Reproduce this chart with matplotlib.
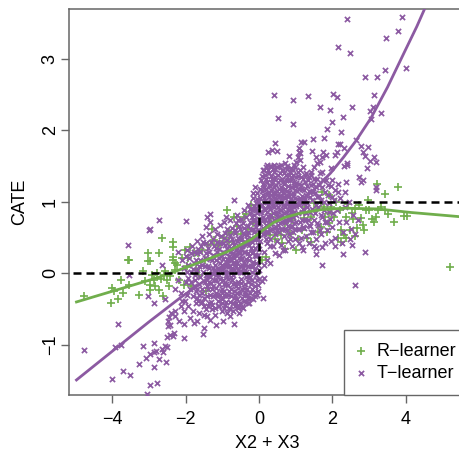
import matplotlib
matplotlib.use('Agg')
import matplotlib.pyplot as plt
import numpy as np

plt.rcParams['font.family'] = ['Liberation Sans', 'DejaVu Sans']

# values (X2 + X3, CATE)
t_upper = [
    (2.39,3.55),(3.89,3.58),(3.78,3.38),(3.45,3.29),(2.15,3.16),(2.48,3.08),(4.01,2.87),(3.44,2.84),
    (2.90,2.74),(3.21,2.74),(0.42,2.49),(0.94,2.42),(1.34,2.48),(2.02,2.51),(2.13,2.47),(3.14,2.49),
    (1.67,2.33),(1.93,2.28),(2.52,2.32),(3.11,2.32),(3.02,2.27),(3.32,2.24),(2.29,2.18),(3.04,2.16),
    (0.51,2.17),(0.92,2.09),(1.98,2.11),(1.84,2.01),(2.23,1.98),(1.77,1.89),(1.48,1.87),(2.64,1.86),
    (0.44,1.82),(1.15,1.83),(1.23,1.84),(2.14,1.81),(2.20,1.80),(2.77,1.78),(2.97,1.77),(2.31,1.75),
    (2.82,1.70),(2.89,1.64),(3.14,1.62),(3.03,1.57),(3.19,1.56),(2.94,1.47),(2.73,1.35),(2.82,1.30),
    (2.77,1.27),(3.20,1.20),(2.39,1.51),(2.32,1.50),(2.41,1.54),(2.12,1.69),(2.06,1.65),(1.82,1.65),
    (1.75,1.69),(1.71,1.63),(1.59,1.54),(1.50,1.49),(1.45,1.71),(1.13,1.68),(1.09,1.75),(1.06,1.63),
    (0.82,1.64),(0.24,1.69),(0.36,1.72),(0.50,1.71),(2.36,1.28),(2.16,1.25),(2.14,1.14),(2.34,1.13),
    (2.00,1.30),(1.95,1.47),(1.72,1.42),(1.27,1.40),(1.41,1.38),(0.95,1.51),(0.72,1.54),(0.22,1.51),
    (0.41,1.51),(0.59,1.51),(1.10,1.70),(1.12,1.58),(1.02,1.55),(0.88,1.47),(1.55,1.62),(1.65,1.56),
]
t_lower = [
    (-4.77,-1.07),(-2.72,0.75),(-1.98,0.73),(-3.00,0.60),(-2.98,0.62),(-3.57,0.39),(-3.53,-0.03),(-3.83,-0.71),
    (-3.92,-1.03),(-3.77,-1.00),(-3.17,-1.02),(-2.85,-0.97),(-4.00,-1.47),(-3.69,-1.36),(-3.51,-1.42),(-3.27,-1.26),
    (-3.08,-1.19),(-2.97,-1.13),(-2.87,-1.10),(-2.65,-1.06),(-2.55,-1.02),(-2.71,-1.20),(-2.54,-1.24),(-2.87,-1.31),
    (-2.98,-1.56),(-2.79,-1.53),(-3.06,-1.68),(-2.46,-0.61),(-2.49,-0.67),(-2.42,-0.72),(-2.49,-0.74),(-2.28,-0.53),
    (-2.28,-0.60),(-2.42,-0.86),(-2.51,-0.89),(-2.35,-0.87),(-2.05,-0.90),(-2.19,-0.67),(-2.05,-0.71),(-1.87,-0.63),
    (-1.78,-0.70),(-1.69,-0.67),(-1.51,-0.76),(-1.53,-0.85),(-1.42,-0.60),(-1.33,-0.65),(-1.19,-0.58),(-1.16,-0.72),
    (-0.99,-0.67),(-0.69,-0.71),(-0.46,-0.47),(-0.87,-0.56),(-0.78,-0.60),(-3.01,-0.32),(-2.85,-0.42),(-2.55,-0.36),
    (-2.65,0.12),(-1.42,0.79),(-1.33,0.72),(-1.44,0.65),(-1.33,0.83),(-0.69,1.02),(-0.90,0.79),(-0.57,0.75),
    (-2.80,-1.08),(-2.62,-1.10),(-2.50,-1.03),(-2.32,-0.84),(-2.40,-0.56),(-2.12,-0.46),(-2.05,-0.52),
    (-1.92,-0.46),(-1.80,-0.52),(-1.72,-0.42),(-1.62,-0.55),(-1.55,-0.40),(-1.40,-0.45),(-1.28,-0.50),(-1.12,-0.45),
    (-1.02,-0.52),(-0.92,-0.44),(-0.82,-0.48),(-0.70,-0.52),(-0.62,-0.42),(-0.55,-0.55),(-0.30,-0.42),(-0.38,-0.30),
    (-0.10,-0.18),(-1.50,-0.58),(-1.95,-0.30),(-2.10,-0.38),
]
t_core_left = [
    (-2.05,0.08),(-1.98,-0.12),(-1.92,0.12),(-1.88,-0.22),(-1.85,0.02),(-1.80,-0.32),(-1.78,0.15),(-1.75,-0.10),
    (-1.72,-0.25),(-1.70,0.28),(-1.68,0.05),(-1.65,-0.38),(-1.62,-0.15),(-1.60,0.18),(-1.58,0.38),(-1.55,-0.28),
    (-1.52,0.02),(-1.50,-0.45),(-1.48,0.22),(-1.46,-0.12),(-1.44,0.42),(-1.42,-0.32),(-1.40,0.10),(-1.38,-0.22),
    (-1.35,0.30),(-1.33,-0.05),(-1.30,-0.40),(-1.28,0.18),(-1.26,0.48),(-1.24,-0.18),(-1.22,0.05),(-1.20,-0.30),
    (-1.18,0.35),(-1.16,-0.10),(-1.14,0.55),(-1.12,-0.38),(-1.10,0.22),(-1.08,-0.02),(-1.06,0.42),(-1.04,-0.25),
    (-1.02,0.12),(-1.00,-0.42),(-0.98,0.30),(-0.96,-0.15),(-0.94,0.50),(-0.92,0.02),(-0.90,-0.32),(-0.88,0.20),
    (-0.86,0.62),(-0.84,-0.08),(-0.82,0.38),(-0.80,-0.40),(-0.78,0.10),(-0.76,-0.22),(-0.74,0.48),(-0.72,0.28),
    (-0.70,-0.02),(-0.68,-0.35),(-0.66,0.15),(-0.64,0.60),(-0.62,-0.18),(-0.60,0.35),(-0.58,0.05),(-0.56,-0.45),
    (-0.54,0.22),(-0.52,-0.28),(-0.50,0.50),(-0.48,-0.08),(-0.46,0.12),(-0.44,0.70),(-0.42,-0.38),(-0.40,0.30),
    (-0.38,-0.15),(-0.36,0.42),(-0.34,0.02),(-0.32,-0.30),(-0.30,0.58),(-0.28,0.18),(-0.26,-0.42),(-0.24,-0.05),
    (-0.22,0.35),(-0.20,0.78),(-0.18,-0.22),(-0.16,0.10),(-0.14,0.48),(-0.12,-0.32),(-0.10,0.25),(-0.08,0.65),
    (-0.06,-0.10),(-0.04,0.40),(-0.02,0.88),(-0.01,0.05),(-0.03,-0.25),(-0.05,0.55),(-0.09,0.98),(-0.13,0.82),
    (-0.17,0.62),(-0.21,0.50),(-0.25,0.72),(-0.29,0.28),(-0.33,0.48),(-0.37,0.12),(-0.41,0.55),(-0.45,0.38),
    (-0.49,0.20),(-0.53,0.62),(-0.57,-0.12),(-0.61,0.45),(-0.65,-0.30),(-0.69,0.25),(-0.73,0.08),(-0.77,-0.05),
    (-0.81,-0.25),(-0.85,0.18),(-0.89,-0.15),(-0.93,0.40),(-0.97,0.08),(-1.01,-0.22),(-1.05,0.15),(-1.09,-0.15),
    (-1.13,0.30),(-1.17,-0.28),(-1.21,0.12),(-1.25,-0.32),(-1.29,0.00),(-1.33,0.20),(-1.37,-0.12),(-1.41,-0.02),
    (-0.35,-0.05),(-0.39,-0.28),(-0.43,0.08),(-0.47,-0.22),(-0.51,0.02),(-0.55,0.28),(-0.59,-0.28),(-0.63,0.10),
    (-0.67,0.40),(-0.71,-0.15),(-0.75,0.18),(-0.79,0.30),(-0.83,0.02),(-0.87,-0.05),(-0.91,0.12),(-0.95,-0.30),
    (-0.15,0.30),(-0.19,0.02),(-0.23,-0.15),(-0.27,0.40),(-0.31,-0.12),(-0.07,0.15),(-0.11,0.75),(-0.04,0.70),
    (-2.20,0.30),(-2.10,0.18),(-1.95,0.32),(-1.82,0.38),(-1.70,0.45),(-1.55,0.52),(-1.35,0.55),(-1.20,0.62),
    (-1.05,0.68),(-0.95,0.72),(-0.78,0.75),(-0.60,0.82),(-0.40,0.88),(-0.30,0.95),(-0.15,1.05),(-0.05,1.12),
    (-2.30,-0.22),(-2.20,-0.10),(-2.12,-0.28),(-2.02,-0.38),(-0.18,0.88),(-0.10,1.20),(-0.03,1.00),(-0.24,0.90),
]
t_dense_left = [
    (-1.58,-0.42),(-1.54,-0.22),(-1.60,-0.05),(-1.55,0.12),(-1.61,0.30),(-1.52,0.44),(-1.49,-0.34),(-1.45,-0.02),
    (-1.47,0.10),(-1.44,0.28),(-1.43,-0.50),(-1.41,-0.18),(-1.39,0.36),(-1.36,-0.42),(-1.34,-0.30),(-1.36,0.08),
    (-1.32,0.44),(-1.31,-0.14),(-1.27,-0.44),(-1.27,-0.22),(-1.26,0.08),(-1.25,0.26),(-1.23,0.38),(-1.22,-0.10),
    (-1.19,-0.48),(-1.18,-0.20),(-1.17,-0.02),(-1.16,0.18),(-1.15,0.44),(-1.13,-0.32),(-1.12,0.08),(-1.10,-0.46),
    (-1.09,0.34),(-1.07,-0.30),(-1.06,-0.08),(-1.05,0.04),(-1.04,0.26),(-1.03,0.52),(-1.01,-0.36),(-0.99,-0.10),
    (-0.99,0.20),(-0.98,0.42),(-0.96,-0.48),(-0.95,-0.24),(-0.94,0.02),(-0.93,0.28),(-0.92,0.56),(-0.90,-0.40),
    (-0.89,-0.02),(-0.88,0.10),(-0.87,0.34),(-0.86,0.46),(-0.84,-0.30),(-0.83,-0.16),(-0.82,0.10),(-0.81,0.24),
    (-0.80,0.54),(-0.79,-0.50),(-0.77,-0.32),(-0.76,0.04),(-0.75,0.36),(-0.74,0.64),(-0.73,-0.10),(-0.72,0.14),
    (-0.71,-0.42),(-0.70,0.44),(-0.69,-0.24),(-0.68,0.04),(-0.67,0.22),(-0.66,0.56),(-0.65,-0.46),(-0.64,-0.14),
    (-0.63,0.32),(-0.62,0.70),(-0.61,-0.36),(-0.60,0.14),(-0.59,0.02),(-0.58,0.50),(-0.57,-0.48),(-0.56,-0.20),
    (-0.55,0.38),(-0.54,0.66),(-0.53,0.10),(-0.52,-0.42),(-0.51,0.28),(-0.50,-0.14),(-0.49,0.46),(-0.48,0.76),
    (-0.47,-0.34),(-0.46,0.02),(-0.45,0.22),(-0.44,0.56),(-0.43,-0.48),(-0.42,0.14),(-0.41,-0.20),(-0.40,0.64),
    (-0.39,0.44),(-0.38,0.04),(-0.37,0.30),(-0.36,-0.40),(-0.35,0.78),(-0.34,0.20),(-0.33,-0.22),(-0.32,0.54),
    (-0.31,0.10),(-0.30,-0.34),(-0.29,0.66),(-0.28,-0.06),(-0.27,0.24),(-0.26,0.46),(-0.25,-0.28),(-0.24,0.84),
    (-0.23,0.10),(-0.22,0.60),(-0.21,-0.34),(-0.20,0.28),(-0.19,-0.10),(-0.18,0.44),(-0.17,0.74),(-0.16,-0.36),
    (-0.15,0.16),(-0.14,0.94),(-0.13,0.58),(-0.12,0.04),(-0.11,0.36),(-0.10,-0.26),(-0.09,0.70),(-0.08,0.24),
    (-0.07,0.48),(-0.06,-0.30),(-0.05,0.84),(-0.04,0.12),(-0.03,0.60),(-0.02,-0.16),(-0.01,0.34),(-0.01,0.76),
    (-0.02,0.96),(-0.06,1.04),(-0.12,0.90),(-0.02,0.48),(-0.04,0.26),(-0.07,-0.02),(-0.01,-0.08),(-0.16,1.12),
    (-1.90,0.22),(-1.84,0.28),(-1.76,0.30),(-1.72,0.18),(-1.66,0.34),(-1.64,0.10),(-1.74,-0.02),(-1.80,0.06),
    (-1.68,-0.22),(-1.62,-0.30),(-1.70,-0.34),(-1.76,-0.18),(-1.84,-0.12),(-1.92,-0.06),(-2.00,0.24),(-1.96,0.02),
]
t_core_right = [
    (0.02,0.70),(0.03,1.05),(0.04,0.45),(0.05,1.30),(0.06,0.85),(0.07,1.15),(0.08,0.60),(0.09,0.95),
    (0.10,1.45),(0.11,0.75),(0.12,1.25),(0.13,0.30),(0.14,1.05),(0.15,0.55),(0.16,1.38),(0.17,0.88),
    (0.18,1.18),(0.19,0.68),(0.20,1.48),(0.21,0.42),(0.22,1.00),(0.23,1.28),(0.24,0.80),(0.25,0.58),
    (0.26,1.12),(0.27,1.40),(0.28,0.92),(0.29,0.70),(0.30,1.22),(0.31,0.48),(0.32,1.50),(0.33,1.02),
    (0.34,0.82),(0.35,1.32),(0.36,0.62),(0.37,1.12),(0.38,0.38),(0.39,0.95),(0.40,1.42),(0.41,0.75),
    (0.42,1.20),(0.43,0.55),(0.44,1.05),(0.45,1.35),(0.46,0.85),(0.47,0.65),(0.48,1.48),(0.49,1.15),
    (0.50,0.45),(0.51,0.98),(0.52,1.28),(0.53,0.78),(0.54,0.58),(0.55,1.08),(0.56,1.40),(0.57,0.88),
    (0.58,0.70),(0.59,1.20),(0.60,0.40),(0.61,1.02),(0.62,1.32),(0.63,0.62),(0.64,0.82),(0.65,1.12),
    (0.66,1.45),(0.67,0.52),(0.68,0.95),(0.69,1.25),(0.70,0.72),(0.71,1.05),(0.72,0.32),(0.73,1.38),
    (0.74,0.85),(0.75,0.60),(0.76,1.15),(0.77,1.50),(0.78,0.45),(0.79,0.98),(0.80,1.30),(0.81,0.75),
    (0.82,1.08),(0.83,0.55),(0.84,1.42),(0.85,0.88),(0.86,1.20),(0.87,0.65),(0.88,1.00),(0.89,0.38),
    (0.90,1.33),(0.91,0.80),(0.92,1.12),(0.93,0.58),(0.94,1.45),(0.95,0.92),(0.96,0.70),(0.97,1.22),
    (0.98,1.05),(0.99,0.48),(1.00,1.35),(1.02,0.82),(1.03,1.15),(1.05,0.62),(1.06,1.42),(1.08,0.95),
    (1.09,1.25),(1.11,0.72),(1.12,1.05),(1.14,0.50),(1.15,1.35),(1.17,0.85),(1.18,1.18),(1.20,0.65),
    (1.21,1.48),(1.23,0.98),(1.24,1.28),(1.26,0.75),(1.28,1.10),(1.29,0.52),(1.31,0.92),(1.33,1.30),
    (1.35,0.68),(1.37,1.15),(1.39,0.85),(1.41,1.42),(1.43,0.58),(1.45,1.02),(1.47,1.25),(1.49,0.75),
    (1.52,1.12),(1.54,0.48),(1.56,0.95),(1.58,1.32),(1.60,0.68),(1.63,1.08),(1.66,1.40),(1.68,0.82),
    (1.70,0.55),(1.73,1.20),(1.76,1.00),(1.79,0.72),(1.82,1.30),(1.85,0.60),(1.88,1.10),(1.92,0.85),
    (1.96,1.22),(2.00,0.65),(2.04,1.02),(2.08,0.50),(2.12,0.88),(2.18,0.72),(2.22,1.05),(2.28,0.58),
    (2.33,0.92),(2.38,0.72),(2.44,1.00),(2.50,0.62),(2.52,0.40),(2.56,0.82),(2.62,0.55),(2.70,0.75),
    (2.08,0.38),(1.95,0.45),(1.80,0.42),(1.50,0.38),(1.35,0.42),(1.10,0.42),(0.85,0.48),(0.65,0.32),
    (0.45,0.28),(0.30,0.38),(0.18,0.48),(0.10,0.55),(2.89,0.30),(2.61,-0.17),(2.29,0.27),(1.71,0.12),
    (1.54,0.27),(1.71,0.37),(1.56,0.35),(1.20,0.33),(1.18,0.37),(0.54,0.26),(0.31,0.14),(0.22,0.19),
    (0.13,0.12),(0.13,-0.07),(0.09,-0.11),(0.11,-0.35),(3.20,1.16),(2.48,0.48),(2.25,0.42),
]
t_dense_right = [
    (0.02,0.86),(0.04,1.18),(0.05,0.58),(0.07,0.96),(0.08,1.36),(0.10,0.78),(0.11,1.10),(0.12,0.64),
    (0.13,0.90),(0.14,1.44),(0.15,1.20),(0.16,0.74),(0.17,1.02),(0.18,0.58),(0.20,1.32),(0.21,0.86),
    (0.22,1.12),(0.23,0.66),(0.24,1.44),(0.25,0.96),(0.26,1.24),(0.27,0.76),(0.28,1.06),(0.29,1.50),
    (0.30,0.60),(0.31,0.90),(0.32,1.16),(0.33,1.36),(0.34,0.70),(0.35,1.00),(0.36,1.26),(0.37,0.84),
    (0.38,1.46),(0.39,1.08),(0.40,0.64),(0.41,1.32),(0.42,0.92),(0.43,1.14),(0.44,0.74),(0.45,1.46),
    (0.46,1.02),(0.47,1.24),(0.48,0.82),(0.49,0.60),(0.50,1.10),(0.51,1.38),(0.52,0.92),(0.53,0.68),
    (0.54,1.18),(0.55,1.50),(0.56,1.00),(0.57,0.78),(0.58,1.30),(0.59,1.08),(0.60,0.62),(0.61,0.88),
    (0.62,1.44),(0.63,1.16),(0.64,0.72),(0.65,1.28),(0.66,0.96),(0.67,1.06),(0.68,0.84),(0.69,1.40),
    (0.70,0.62),(0.71,1.18),(0.72,0.92),(0.73,1.30),(0.74,0.74),(0.75,1.08),(0.76,1.46),(0.77,0.98),
    (0.78,0.82),(0.79,1.22),(0.80,0.66),(0.81,1.38),(0.82,0.94),(0.83,1.14),(0.84,0.76),(0.85,1.30),
    (0.86,1.04),(0.87,0.86),(0.88,1.46),(0.89,1.20),(0.90,0.66),(0.91,0.96),(0.92,1.38),(0.93,0.78),
    (0.94,1.08),(0.95,1.28),(0.96,0.86),(0.97,1.48),(0.98,0.62),(0.99,1.16),(1.00,0.94),(1.01,1.26),
    (1.02,0.72),(1.04,1.04),(1.05,1.36),(1.07,0.84),(1.08,1.18),(1.10,0.62),(1.11,1.44),(1.13,0.98),
    (1.14,1.24),(1.16,0.74),(1.17,1.08),(1.19,1.32),(1.20,0.90),(1.22,1.16),(1.23,0.64),(1.25,1.04),
    (1.26,1.38),(1.28,0.84),(1.30,1.22),(1.32,0.98),(1.34,0.74),(1.36,1.34),(1.38,1.06),(1.40,0.66),
    (1.42,1.24),(1.44,0.90),(1.46,1.14),(1.48,0.58),(1.50,1.32),(1.53,0.84),(1.55,1.20),(1.57,0.70),
    (1.59,1.06),(1.61,0.92),(1.64,1.24),(1.67,0.60),(1.69,1.02),(1.72,0.78),(1.75,1.30),(1.78,0.88),
    (1.81,1.14),(1.84,0.72),(1.87,1.24),(1.90,0.98),(1.94,0.76),(1.98,1.06),(2.02,0.84),(2.06,1.16),
]
r_points = [
    (-4.77,-0.31),(-4.01,-0.21),(-3.94,-0.24),(-4.04,-0.42),(-3.83,-0.36),(-3.69,-0.28),(-3.77,-0.09),(-3.53,-0.16),
    (-3.56,0.18),(-3.53,0.19),(-3.17,0.03),(-3.26,-0.30),(-3.10,-0.11),(-3.01,0.28),(-3.01,0.17),(-2.98,0.17),
    (-2.72,0.29),(-2.63,0.50),(-2.35,0.44),(-2.35,0.37),(-2.97,-0.16),(-2.98,-0.23),(-2.85,-0.09),(-2.83,-0.18),
    (-2.71,-0.23),(-2.62,-0.31),(-2.46,-0.18),(-2.42,-0.04),(-2.55,0.03),(-2.33,0.23),(-2.28,0.14),(-2.35,0.19),
    (-2.19,-0.09),(-2.10,0.21),(-2.01,0.33),(-1.87,0.37),(-1.96,0.10),(-2.05,-0.16),(-0.87,0.89),(-0.69,0.79),
    (-0.60,0.66),(-0.35,0.83),(-0.82,0.58),(-1.28,0.62),(-1.22,0.46),(-0.82,0.44),(-1.05,0.41),(-1.65,0.28),
    (-1.55,0.32),(-1.48,0.18),(-1.72,0.05),(-1.62,-0.02),(-1.85,-0.18),(-1.45,-0.25),(-2.90,-0.02),(-2.78,0.00),
    (-2.68,-0.08),(-2.60,-0.02),(-2.50,-0.10),(-2.30,0.05),(-2.22,0.12),(-1.92,0.22),(-1.78,0.28),(-1.40,0.40),
    (-1.15,0.40),(-0.95,0.50),(-0.75,0.55),(-0.50,0.55),(-0.30,0.62),(-0.15,0.70),(-0.40,0.78),(-0.22,0.95),
    (5.21,0.09),(3.78,1.21),(3.44,1.11),(3.21,1.25),(2.96,1.03),(3.68,0.72),(3.96,0.80),(4.02,0.80),
    (3.52,0.83),(3.43,0.89),(3.32,0.92),(3.23,0.89),(3.12,0.72),(3.09,0.76),(3.18,0.79),(3.00,0.89),
    (2.91,0.88),(2.73,0.96),(2.52,0.84),(2.36,0.79),(2.43,0.97),(2.77,0.77),(2.86,0.61),(2.82,0.68),
    (2.55,0.76),(2.68,0.63),(2.23,0.61),(2.32,0.54),(2.14,0.49),(2.23,0.44),(1.41,0.44),(1.00,0.32),
    (0.72,0.34),(0.45,0.48),(0.31,0.54),(1.73,1.14),(1.91,1.09),(1.68,0.98),(1.95,0.93),(1.54,0.88),
    (1.91,0.84),(1.91,0.70),(1.68,0.65),(1.86,0.58),(0.59,0.54),(0.72,0.70),(0.91,0.75),(1.22,0.77),
    (1.41,0.79),(1.18,0.60),(0.18,0.23),(0.09,0.19),(2.20,0.88),(2.05,0.78),(1.80,0.78),(1.60,0.58),
    (1.30,0.50),(0.85,0.55),(0.50,0.62),(0.32,0.78),(2.10,1.00),(1.78,0.92),(1.50,0.98),(1.25,0.92),
    (2.62,0.90),(2.48,0.60),(2.38,0.50),(2.62,0.52),(1.05,0.48),(0.62,0.42),
]

t_curve_x = [-4.97,-3.78,-3.00,-2.14,-1.50,-1.00,-0.50,0.00,0.50,1.00,1.50,1.95,2.30,2.64,3.05,3.50,3.96,4.30,4.55]
t_curve_y = [-1.49,-1.00,-0.68,-0.34,-0.11,0.09,0.32,0.55,0.76,0.95,1.17,1.40,1.62,1.85,2.17,2.60,3.09,3.45,3.74]
r_curve_x = [-4.97,-3.60,-2.69,-1.79,-0.87,-0.19,0.10,0.40,0.70,1.13,1.70,2.32,3.23,4.14,5.50]
r_curve_y = [-0.40,-0.19,-0.05,0.12,0.30,0.48,0.60,0.71,0.78,0.84,0.89,0.91,0.90,0.85,0.79]
step_x = [-5.07,0,0,5.5]
step_y = [0,0,1,1]

PURPLE = '#8C5AA2'
GREEN = '#70AE4C'
GREY = '#666666'

t_points = np.array(t_upper + t_lower + t_core_left + t_dense_left + t_core_right + t_dense_right)
r_xy = np.array(r_points)

fig = plt.figure(figsize=(4.6, 4.5), dpi=100)
ax = fig.add_axes([69.5/460, 1 - 395/450, (460 - 69.5)/460 + 0.01, (395 - 8.5)/450])

ax.scatter(r_xy[:, 0], r_xy[:, 1], marker='+', s=30, linewidths=1.2, color=GREEN, label='R\u2212learner', zorder=2)
ax.scatter(t_points[:, 0], t_points[:, 1], marker='x', s=14, linewidths=1.25, color=PURPLE, label='T\u2212learner', zorder=3)
ax.plot(t_curve_x, t_curve_y, color=PURPLE, lw=2, zorder=4)
ax.plot(r_curve_x, r_curve_y, color=GREEN, lw=2, zorder=5)
ax.plot(step_x, step_y, color='black', lw=1.8, dashes=(3.2, 2.0), zorder=6)

ax.set_xlim(-5.16, 5.6)
ax.set_ylim(-1.70, 3.70)
ax.set_xticks([-4, -2, 0, 2, 4])
ax.set_yticks([-1, 0, 1, 2, 3])
ax.set_xticklabels(['\u22124', '\u22122', '0', '2', '4'], fontsize=13)
ax.set_yticklabels(['\u22121', '0', '1', '2', '3'], fontsize=13, rotation=90, va='center')
ax.tick_params(length=5.7, width=1, color=GREY, pad=2)
ax.tick_params(axis='x', pad=6)
for s in ax.spines.values():
    s.set_color(GREY)
    s.set_linewidth(1.1)
ax.set_xlabel('X2 + X3', fontsize=13, labelpad=4.5)
ax.set_ylabel('CATE', fontsize=13, labelpad=10)

ax.legend(loc='lower right', bbox_to_anchor=(469/460, 1 - 395/450), bbox_transform=fig.transFigure, borderaxespad=0,
          fontsize=13, fancybox=False, framealpha=1, edgecolor=GREY, handlelength=0.4, handletextpad=0.65,
          labelspacing=0.28, borderpad=0.72).set_zorder(10)

fig.savefig('out.png', dpi=100)
